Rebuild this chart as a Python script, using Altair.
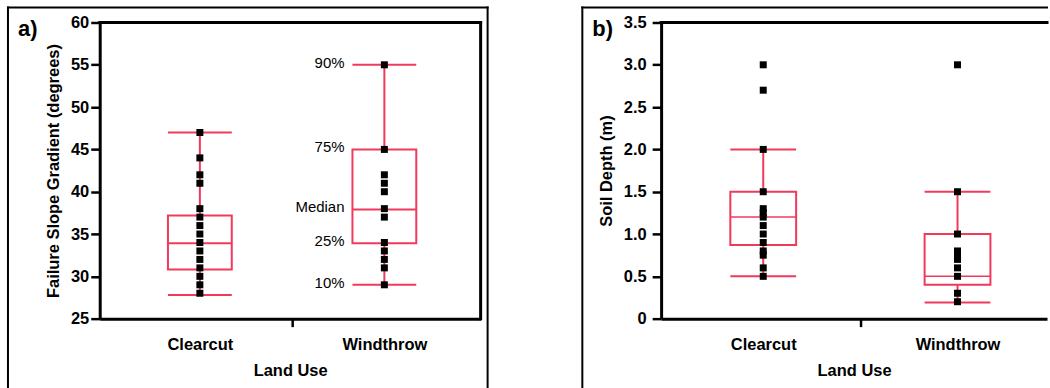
import altair as alt
import pandas as pd

CATEGORIES = ["Clearcut", "Windthrow"]

# Panel a: failure slope gradient (degrees)
slope_clearcut = [47, 44, 42, 41, 38, 37, 36, 35, 34, 33, 32, 31, 30, 29, 28]
slope_windthrow = [55, 45, 42, 41, 40, 38, 37, 34, 33, 32, 31, 29]
slope_p10 = [27.8, 29.0]
slope_q1 = [30.8, 33.9]
slope_med = [33.9, 37.9]
slope_q3 = [37.2, 45.0]
slope_p90 = [47.0, 55.0]

# Panel b: soil depth (m)
depth_clearcut = [3.0, 2.7, 2.0, 1.5, 1.3, 1.25, 1.2, 1.1, 1.0, 0.9, 0.8, 0.75, 0.6, 0.5]
depth_windthrow = [3.0, 1.5, 1.0, 0.8, 0.75, 0.7, 0.6, 0.5, 0.3, 0.2]
depth_p10 = [0.5, 0.19]
depth_q1 = [0.87, 0.4]
depth_med = [1.2, 0.5]
depth_q3 = [1.5, 1.0]
depth_p90 = [2.0, 1.5]

PCT_LABELS = ["90%", "75%", "Median", "25%", "10%"]

slope_ticks = [25, 30, 35, 40, 45, 50, 55, 60]
depth_ticks = [0, 0.5, 1.0, 1.5, 2.0, 2.5, 3.0, 3.5]

RED = "#f03a5c"
FONT = "Liberation Sans"
HEIGHT = 297


def points_df(lists):
    rows = []
    for i, (cat, vals) in enumerate(zip(CATEGORIES, lists)):
        for v in vals:
            rows.append({"cat": cat, "pos": i + 0.5, "v": v})
    return pd.DataFrame(rows)


def stats_df(p10, q1, med, q3, p90):
    return pd.DataFrame({
        "cat": CATEGORIES,
        "pos": [i + 0.5 for i in range(len(CATEGORIES))],
        "p10": p10, "q1": q1, "med": med, "q3": q3, "p90": p90,
    })


dummy = pd.DataFrame({"d": [0]})


def hline(x1, x2, y, w=2):
    return alt.Chart(dummy).mark_rule(color="black", strokeWidth=w, strokeCap="square").encode(
        x=alt.value(x1), x2=alt.value(x2), y=alt.value(y))


def vline(x, y1, y2, w=2):
    return alt.Chart(dummy).mark_rule(color="black", strokeWidth=w, strokeCap="square").encode(
        x=alt.value(x), y=alt.value(y1), y2=alt.value(y2))


def make_panel(pts, st, ydom, yvals, ylabel_expr, ytitle, width, px_per_unit, x0,
               box_px, med_w, letter, letter_x, ylab_pad, frame_left, frame_right,
               plot_right_line, extra=None):
    xscale = alt.Scale(domain=[x0, x0 + width / px_per_unit], nice=False, zero=False)
    yscale = alt.Scale(domain=ydom, nice=False, zero=False)
    xaxis = alt.Axis(
        values=[0.5, 1, 1.5],
        labelExpr="datum.value == 0.5 ? '" + CATEGORIES[0] + "' : datum.value == 1.5 ? '" + CATEGORIES[1] + "' : ''",
        title="Land Use", grid=False,
        domainColor="black", domainWidth=3,
        tickColor="black", tickWidth=2.5, tickSize=8,
        tickOpacity={"condition": {"test": "datum.value == 1", "value": 1}, "value": 0},
        labelFont=FONT, labelFontSize=16.5, labelFontWeight="bold", labelColor="black",
        labelPadding=10,
        titleFont=FONT, titleFontSize=16.5, titleFontWeight="bold", titleColor="black",
        titlePadding=10,
    )
    yaxis = alt.Axis(
        values=yvals, labelExpr=ylabel_expr, title=ytitle, grid=False,
        domainColor="black", domainWidth=3,
        tickColor="black", tickWidth=2.5, tickSize=9,
        labelFont=FONT, labelFontSize=16.5, labelFontWeight="bold", labelColor="black",
        labelPadding=ylab_pad,
        titleFont=FONT, titleFontSize=16.5, titleFontWeight="bold", titleColor="black",
        titlePadding=9,
    )

    def X(f):
        return alt.X(f"{f}:Q", scale=xscale, axis=xaxis)

    def Y(f):
        return alt.Y(f"{f}:Q", scale=yscale, axis=yaxis)

    box = alt.Chart(st).mark_bar(size=box_px, fill="white", stroke=RED, strokeWidth=2).encode(
        x=X("pos"), y=Y("q1"), y2=alt.Y2("q3:Q"))
    wlo = alt.Chart(st).mark_rule(color=RED, strokeWidth=2).encode(
        x=X("pos"), y=Y("p10"), y2=alt.Y2("q1:Q"))
    whi = alt.Chart(st).mark_rule(color=RED, strokeWidth=2).encode(
        x=X("pos"), y=Y("q3"), y2=alt.Y2("p90:Q"))
    cap_lo = alt.Chart(st).mark_tick(orient="horizontal", size=box_px, thickness=2, color=RED, opacity=1).encode(
        x=X("pos"), y=Y("p10"))
    cap_hi = alt.Chart(st).mark_tick(orient="horizontal", size=box_px, thickness=2, color=RED, opacity=1).encode(
        x=X("pos"), y=Y("p90"))
    med = alt.Chart(st).mark_tick(orient="horizontal", size=box_px, thickness=med_w, color=RED, opacity=1).encode(
        x=X("pos"), y=Y("med"))
    pts_l = alt.Chart(pts).mark_square(size=49, color="black", opacity=1).encode(
        x=X("pos"), y=Y("v"))

    layers = [box, wlo, whi, cap_lo, cap_hi, med, pts_l]
    if extra is not None:
        layers.append(extra(X, Y))

    # plot frame (top, right) and outer panel frame
    layers.append(hline(0, width, 0, 3))
    if plot_right_line:
        layers.append(vline(width, 0, HEIGHT, 3))
    layers.append(hline(frame_left, frame_right, -15))
    layers.append(vline(frame_left, -15, 366))
    if plot_right_line:
        layers.append(vline(frame_right, -15, 366))

    layers.append(alt.Chart(dummy).mark_text(
        text=letter, font=FONT, fontSize=22, fontWeight="bold", align="left", baseline="middle",
        color="black").encode(x=alt.value(letter_x), y=alt.value(7)))

    return alt.layer(*layers).properties(width=width, height=HEIGHT)


slope_st = stats_df(slope_p10, slope_q1, slope_med, slope_q3, slope_p90)
depth_st = stats_df(depth_p10, depth_q1, depth_med, depth_q3, depth_p90)

wt = slope_st.iloc[1]
pct_df = pd.DataFrame({
    "label": PCT_LABELS,
    "pos": [wt["pos"]] * len(PCT_LABELS),
    "v": [wt["p90"], wt["q3"], wt["med"], wt["q1"], wt["p10"]],
})


def pct_layer(X, Y):
    return alt.Chart(pct_df).mark_text(
        align="right", baseline="middle", dx=-40, dy=-2, font=FONT, fontSize=15, color="black"
    ).encode(x=X("pos"), y=Y("v"), text="label:N")


panel_a = make_panel(
    points_df([slope_clearcut, slope_windthrow]), slope_st,
    [25, 60], slope_ticks, "format(datum.value, 'd')",
    "Failure Slope Gradient (degrees)",
    width=382, px_per_unit=190, x0=-0.0158, box_px=64, med_w=2,
    letter="a)", letter_x=-82, ylab_pad=2, frame_left=-92, frame_right=389,
    plot_right_line=True, extra=pct_layer,
)

panel_b = make_panel(
    points_df([depth_clearcut, depth_windthrow]), depth_st,
    [0, 3.5], depth_ticks, "datum.value == 0 ? '0' : format(datum.value, '.1f')",
    "Soil Depth (m)",
    width=387, px_per_unit=200, x0=0.0, box_px=66, med_w=1.5,
    letter="b)", letter_x=-69, ylab_pad=6, frame_left=-79, frame_right=387,
    plot_right_line=False,
)

chart = alt.hconcat(panel_a, panel_b, spacing=181, bounds="flush").properties(
    padding={"left": 6, "top": 5, "right": 0, "bottom": 0},
    background="white",
).configure_view(strokeWidth=0)

chart.save("out.html", embed_options={"renderer": "svg", "actions": False})
